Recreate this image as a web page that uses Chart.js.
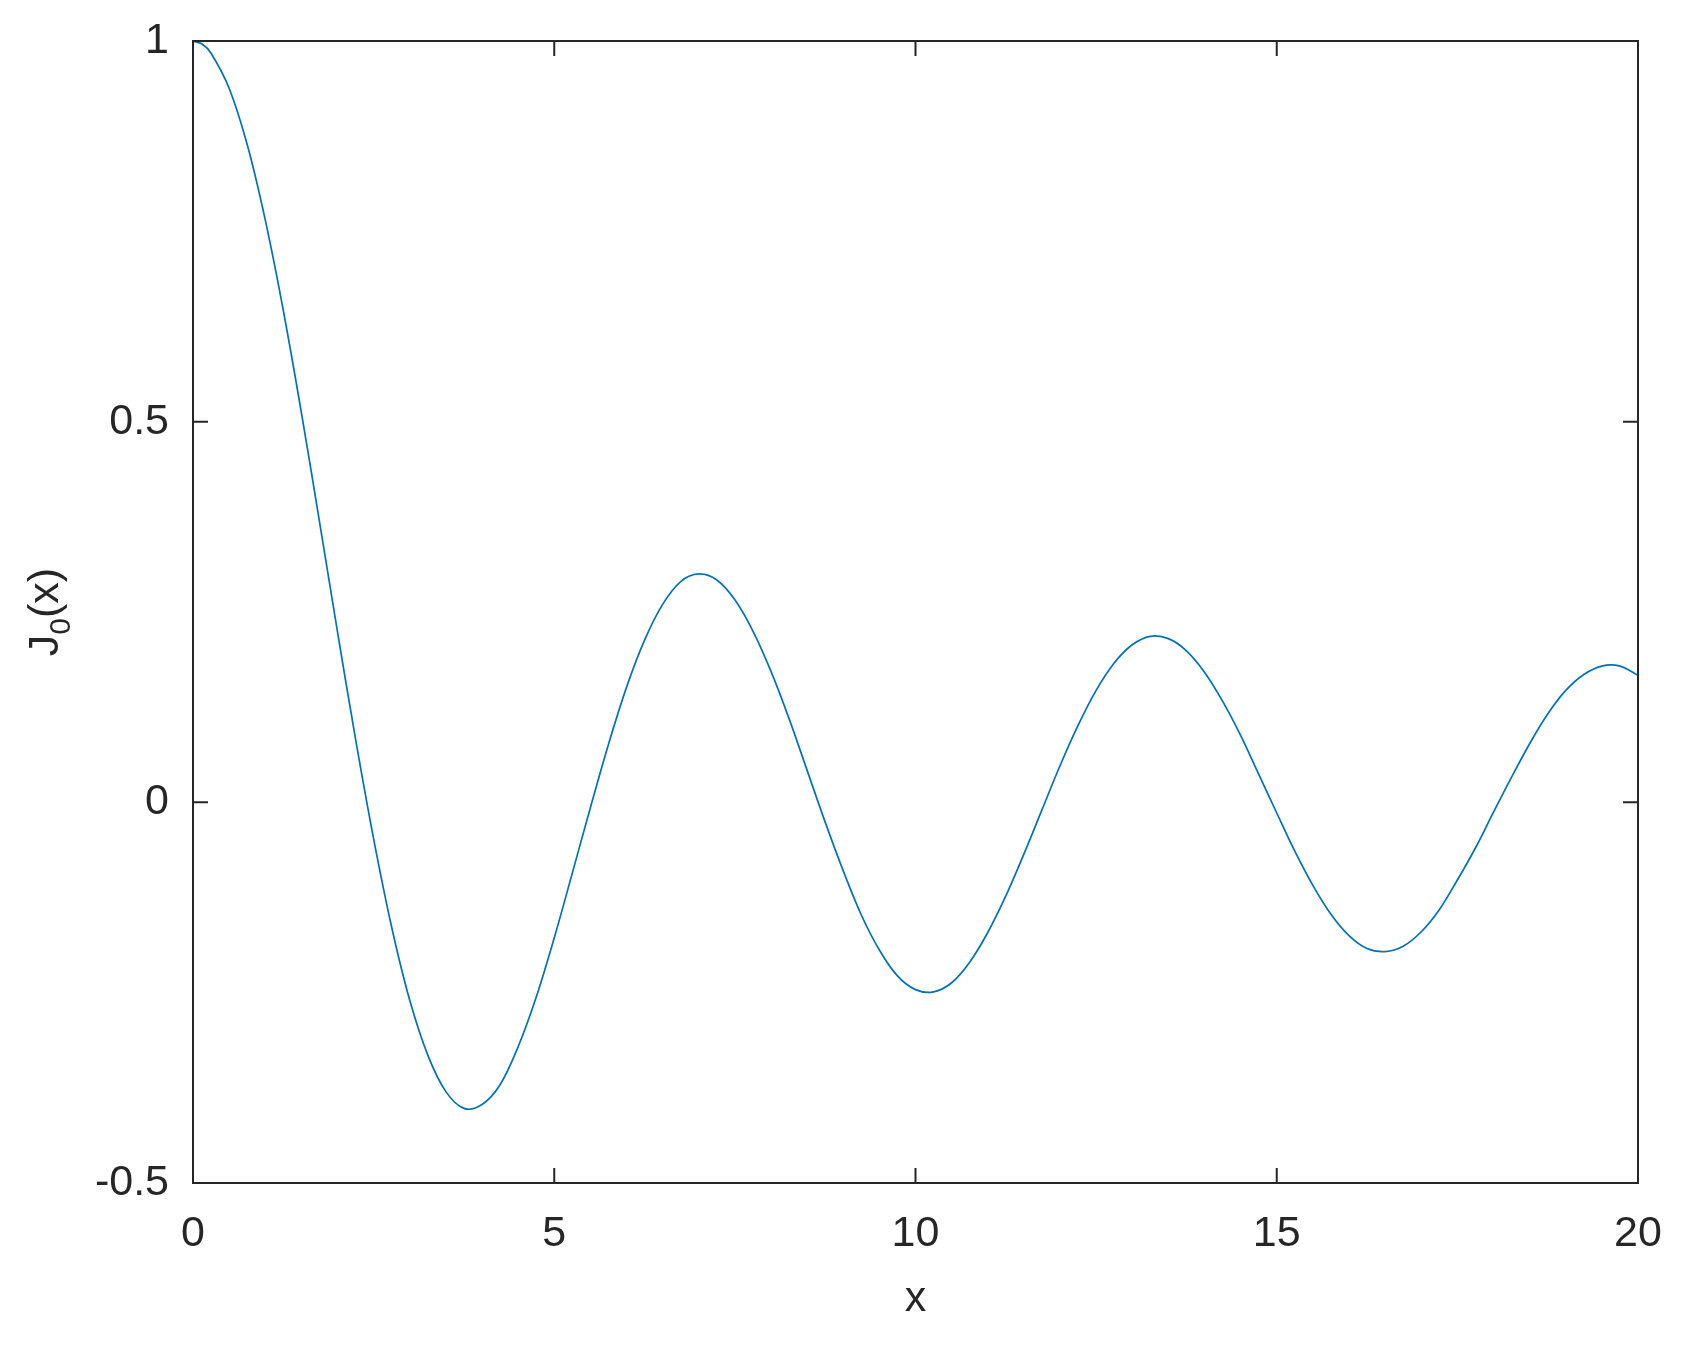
<!DOCTYPE html>
<html>
<head>
<meta charset="utf-8">
<style>
  html, body { margin: 0; padding: 0; background: #fff; }
  #wrap { width: 1690px; height: 1348px; }
</style>
<script src="https://cdn.jsdelivr.net/npm/chart.js@4"></script>
</head>
<body>
<div id="wrap"><canvas id="besselChart" width="1690" height="1348"></canvas></div>
<script>
// values, x step 0.25 from 0 to 20 (extra point near the flat start)
const xValues = [
  0, 0.125, 0.25, 0.5, 0.75, 1, 1.25, 1.5, 1.75, 2, 2.25, 2.5, 2.75, 3, 3.25, 3.5, 3.75,
  4, 4.25, 4.5, 4.75, 5, 5.25, 5.5, 5.75, 6, 6.25, 6.5, 6.75, 7, 7.25, 7.5, 7.75,
  8, 8.25, 8.5, 8.75, 9, 9.25, 9.5, 9.75, 10, 10.25, 10.5, 10.75, 11, 11.25, 11.5, 11.75,
  12, 12.25, 12.5, 12.75, 13, 13.25, 13.5, 13.75, 14, 14.25, 14.5, 14.75, 15, 15.25, 15.5, 15.75,
  16, 16.25, 16.5, 16.75, 17, 17.25, 17.5, 17.75, 18, 18.25, 18.5, 18.75, 19, 19.25, 19.5, 19.75, 20
];
const j0Values = [
  1.000, 0.996, 0.984, 0.938, 0.864, 0.765, 0.646, 0.512, 0.369, 0.224, 0.083, -0.048, -0.164, -0.260, -0.332, -0.380, -0.402,
  -0.397, -0.371, -0.321, -0.256, -0.178, -0.093, -0.007, 0.076, 0.151, 0.213, 0.260, 0.290, 0.300, 0.292, 0.266, 0.225,
  0.172, 0.110, 0.042, -0.026, -0.090, -0.148, -0.194, -0.228, -0.246, -0.249, -0.237, -0.210, -0.171, -0.123, -0.068, -0.010,
  0.048, 0.101, 0.147, 0.183, 0.207, 0.218, 0.215, 0.199, 0.171, 0.133, 0.088, 0.037, -0.014, -0.064, -0.109, -0.147,
  -0.175, -0.192, -0.196, -0.189, -0.170, -0.141, -0.102, -0.060, -0.013, 0.033, 0.077, 0.116, 0.147, 0.168, 0.179, 0.179, 0.167
];
const xTicks = [0, 5, 10, 15, 20];
const yTicks = [-0.5, 0, 0.5, 1];

const axisColor = '#262626';
const fontFamily = '"Liberation Sans", Arial, Helvetica, sans-serif';

// MATLAB-style box with inward ticks on all four sides, plus axis titles
const boxAxes = {
  id: 'boxAxes',
  afterDraw(chart) {
    const ctx = chart.ctx;
    const a = chart.chartArea;
    const xs = chart.scales.x;
    const ys = chart.scales.y;
    const tick = 15;
    ctx.save();
    ctx.strokeStyle = axisColor;
    ctx.lineWidth = 2;
    ctx.strokeRect(a.left, a.top, a.right - a.left, a.bottom - a.top);
    ctx.beginPath();
    xTicks.forEach(v => {
      const px = xs.getPixelForValue(v);
      ctx.moveTo(px, a.bottom); ctx.lineTo(px, a.bottom - tick);
      ctx.moveTo(px, a.top); ctx.lineTo(px, a.top + tick);
    });
    yTicks.forEach(v => {
      const py = ys.getPixelForValue(v);
      ctx.moveTo(a.left, py); ctx.lineTo(a.left + tick, py);
      ctx.moveTo(a.right, py); ctx.lineTo(a.right - tick, py);
    });
    ctx.stroke();

    ctx.fillStyle = axisColor;
    // x title
    ctx.font = '43px ' + fontFamily;
    ctx.textAlign = 'center';
    ctx.textBaseline = 'alphabetic';
    ctx.fillText('x', (a.left + a.right) / 2, 1311);

    // y title J_0(x), rotated
    ctx.translate(58, (a.top + a.bottom) / 2);
    ctx.rotate(-Math.PI / 2);
    const big = '43px ' + fontFamily;
    const small = '30px ' + fontFamily;
    ctx.font = big;
    const wJ = ctx.measureText('J').width;
    const wP = ctx.measureText('(x)').width;
    ctx.font = small;
    const w0 = ctx.measureText('0').width;
    const total = wJ + w0 + wP;
    let cx = -total / 2;
    ctx.textAlign = 'left';
    ctx.font = big;
    ctx.fillText('J', cx, 0);
    cx += wJ;
    ctx.font = small;
    ctx.fillText('0', cx, 12);
    cx += w0;
    ctx.font = big;
    ctx.fillText('(x)', cx, 0);
    ctx.restore();
  }
};

new Chart(document.getElementById('besselChart'), {
  type: 'line',
  data: {
    datasets: [{
      label: 'J0(x)',
      data: xValues.map((x, i) => ({ x, y: j0Values[i] })),
      borderColor: '#0072BD',
      borderWidth: 1.7,
      pointRadius: 0,
      tension: 0.35,
      fill: false
    }]
  },
  options: {
    responsive: false,
    animation: false,
    devicePixelRatio: 1,
    layout: { padding: { top: 41, right: 52, left: 0, bottom: 0 } },
    plugins: { legend: { display: false }, tooltip: { enabled: false } },
    scales: {
      x: {
        type: 'linear',
        min: 0,
        max: 20,
        afterBuildTicks: s => { s.ticks = xTicks.map(v => ({ value: v })); },
        afterFit: s => { s.height = 165; s.paddingLeft = 0; s.paddingRight = 0; },
        grid: { display: false, drawTicks: false },
        border: { display: false },
        ticks: {
          color: axisColor,
          font: { family: fontFamily, size: 43 },
          padding: 25,
          maxRotation: 0
        }
      },
      y: {
        type: 'linear',
        min: -0.5,
        max: 1,
        afterBuildTicks: s => { s.ticks = yTicks.map(v => ({ value: v })); },
        afterFit: s => { s.width = 193; s.paddingTop = 0; s.paddingBottom = 0; },
        grid: { display: false, drawTicks: false },
        border: { display: false },
        ticks: {
          color: axisColor,
          font: { family: fontFamily, size: 43 },
          padding: 24,
          callback: v => String(v)
        }
      }
    }
  },
  plugins: [boxAxes]
});
</script>
</body>
</html>
